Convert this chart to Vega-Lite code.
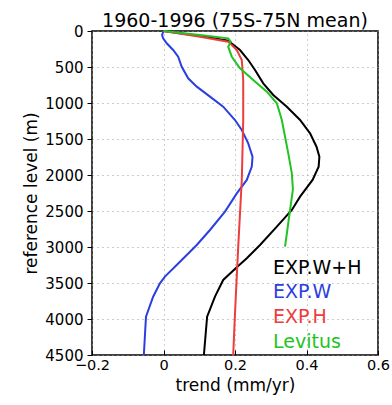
{
  "$schema": "https://vega.github.io/schema/vega-lite/v6.json",
  "width": 286,
  "height": 324,
  "autosize": "none",
  "padding": {"left": 92, "top": 31, "right": 14, "bottom": 50},
  "background": "white",
  "config": {
    "view": {"stroke": "black", "strokeWidth": 1.5},
    "font": "DejaVu Sans",
    "axis": {"labelOverlap": false},
    "axisX": {"labelOverlap": false}
  },
  "title": {
    "text": "1960-1996 (75S-75N mean)",
    "font": "DejaVu Sans",
    "fontSize": 19,
    "fontWeight": "normal",
    "color": "black",
    "baseline": "top",
    "offset": 6,
    "dy": 13
  },
  "datasets": {
    "profiles": [
      {"series": "EXP.W+H", "depth": 0, "trend": 0.0},
      {"series": "EXP.W+H", "depth": 70, "trend": 0.102},
      {"series": "EXP.W+H", "depth": 134, "trend": 0.181},
      {"series": "EXP.W+H", "depth": 171, "trend": 0.19},
      {"series": "EXP.W+H", "depth": 264, "trend": 0.214},
      {"series": "EXP.W+H", "depth": 403, "trend": 0.237},
      {"series": "EXP.W+H", "depth": 542, "trend": 0.256},
      {"series": "EXP.W+H", "depth": 727, "trend": 0.279},
      {"series": "EXP.W+H", "depth": 889, "trend": 0.307},
      {"series": "EXP.W+H", "depth": 1051, "trend": 0.345},
      {"series": "EXP.W+H", "depth": 1236, "trend": 0.382},
      {"series": "EXP.W+H", "depth": 1421, "trend": 0.41},
      {"series": "EXP.W+H", "depth": 1607, "trend": 0.428},
      {"series": "EXP.W+H", "depth": 1746, "trend": 0.436},
      {"series": "EXP.W+H", "depth": 1884, "trend": 0.434},
      {"series": "EXP.W+H", "depth": 2069, "trend": 0.417},
      {"series": "EXP.W+H", "depth": 2301, "trend": 0.382},
      {"series": "EXP.W+H", "depth": 2486, "trend": 0.359},
      {"series": "EXP.W+H", "depth": 2718, "trend": 0.317},
      {"series": "EXP.W+H", "depth": 2972, "trend": 0.27},
      {"series": "EXP.W+H", "depth": 3157, "trend": 0.233},
      {"series": "EXP.W+H", "depth": 3282, "trend": 0.205},
      {"series": "EXP.W+H", "depth": 3458, "trend": 0.167},
      {"series": "EXP.W+H", "depth": 3690, "trend": 0.144},
      {"series": "EXP.W+H", "depth": 3968, "trend": 0.122},
      {"series": "EXP.W+H", "depth": 4500, "trend": 0.113},

      {"series": "EXP.W", "depth": 0, "trend": 0.0},
      {"series": "EXP.W", "depth": 56, "trend": -0.004},
      {"series": "EXP.W", "depth": 102, "trend": -0.001},
      {"series": "EXP.W", "depth": 171, "trend": 0.009},
      {"series": "EXP.W", "depth": 264, "trend": 0.027},
      {"series": "EXP.W", "depth": 357, "trend": 0.041},
      {"series": "EXP.W", "depth": 496, "trend": 0.051},
      {"series": "EXP.W", "depth": 657, "trend": 0.069},
      {"series": "EXP.W", "depth": 773, "trend": 0.093},
      {"series": "EXP.W", "depth": 912, "trend": 0.13},
      {"series": "EXP.W", "depth": 1051, "trend": 0.167},
      {"series": "EXP.W", "depth": 1236, "trend": 0.2},
      {"series": "EXP.W", "depth": 1375, "trend": 0.219},
      {"series": "EXP.W", "depth": 1560, "trend": 0.237},
      {"series": "EXP.W", "depth": 1746, "trend": 0.249},
      {"series": "EXP.W", "depth": 1884, "trend": 0.247},
      {"series": "EXP.W", "depth": 2069, "trend": 0.233},
      {"series": "EXP.W", "depth": 2255, "trend": 0.205},
      {"series": "EXP.W", "depth": 2509, "trend": 0.172},
      {"series": "EXP.W", "depth": 2764, "trend": 0.13},
      {"series": "EXP.W", "depth": 2972, "trend": 0.093},
      {"series": "EXP.W", "depth": 3204, "trend": 0.046},
      {"series": "EXP.W", "depth": 3412, "trend": 0.004},
      {"series": "EXP.W", "depth": 3505, "trend": -0.01},
      {"series": "EXP.W", "depth": 3690, "trend": -0.029},
      {"series": "EXP.W", "depth": 3968, "trend": -0.049},
      {"series": "EXP.W", "depth": 4500, "trend": -0.055},

      {"series": "EXP.H", "depth": 0, "trend": 0.0},
      {"series": "EXP.H", "depth": 79, "trend": 0.102},
      {"series": "EXP.H", "depth": 148, "trend": 0.181},
      {"series": "EXP.H", "depth": 264, "trend": 0.205},
      {"series": "EXP.H", "depth": 403, "trend": 0.219},
      {"series": "EXP.H", "depth": 680, "trend": 0.223},
      {"series": "EXP.H", "depth": 1236, "trend": 0.223},
      {"series": "EXP.H", "depth": 2069, "trend": 0.219},
      {"series": "EXP.H", "depth": 2995, "trend": 0.209},
      {"series": "EXP.H", "depth": 3921, "trend": 0.2},
      {"series": "EXP.H", "depth": 4500, "trend": 0.195},

      {"series": "Levitus", "depth": 0, "trend": 0.0},
      {"series": "Levitus", "depth": 56, "trend": 0.102},
      {"series": "Levitus", "depth": 102, "trend": 0.181},
      {"series": "Levitus", "depth": 148, "trend": 0.188},
      {"series": "Levitus", "depth": 218, "trend": 0.181},
      {"series": "Levitus", "depth": 357, "trend": 0.191},
      {"series": "Levitus", "depth": 518, "trend": 0.214},
      {"series": "Levitus", "depth": 680, "trend": 0.251},
      {"series": "Levitus", "depth": 843, "trend": 0.289},
      {"series": "Levitus", "depth": 1004, "trend": 0.317},
      {"series": "Levitus", "depth": 1236, "trend": 0.331},
      {"series": "Levitus", "depth": 1468, "trend": 0.34},
      {"series": "Levitus", "depth": 1699, "trend": 0.349},
      {"series": "Levitus", "depth": 1977, "trend": 0.359},
      {"series": "Levitus", "depth": 2200, "trend": 0.362},
      {"series": "Levitus", "depth": 2486, "trend": 0.354},
      {"series": "Levitus", "depth": 2995, "trend": 0.34}
    ]
  },
  "layer": [
    {
      "mark": {"type": "rule", "color": "black", "strokeWidth": 1.3},
      "encoding": {"x": {"datum": 0, "type": "quantitative"}}
    },
    {
      "data": {"name": "profiles"},
      "mark": {"type": "line", "strokeWidth": 2, "interpolate": "linear"},
      "encoding": {
        "x": {
          "field": "trend",
          "type": "quantitative",
          "scale": {"domain": [-0.2, 0.6], "nice": false, "zero": false},
          "axis": {
            "title": "trend (mm/yr)",
            "titleFont": "DejaVu Sans",
            "titleFontSize": 17,
            "titleFontWeight": "normal",
            "titleColor": "black",
            "titlePadding": 6,
            "values": [-0.2, -0.1, 0, 0.1, 0.2, 0.3, 0.4, 0.5, 0.6],
            "labelExpr": "datum.value == 0 ? '0' : format(datum.value, '.1f')",
            "labelFont": "DejaVu Sans",
            "labelFontSize": 14.5,
            "labelColor": "black",
            "labelOverlap": false,
            "labelPadding": 8,
            "labelFlush": false,
            "domain": false,
            "tickColor": "black",
            "tickSize": -5,
            "tickWidth": 1,
            "grid": true,
            "gridColor": "#9a9a9a",
            "gridDash": [1, 4],
            "gridWidth": 1
          }
        },
        "y": {
          "field": "depth",
          "type": "quantitative",
          "scale": {"domain": [0, 4500], "reverse": true, "nice": false},
          "axis": {
            "title": "reference level (m)",
            "titleFont": "DejaVu Sans",
            "titleFontSize": 17,
            "titleFontWeight": "normal",
            "titleColor": "black",
            "titlePadding": 4,
            "values": [0, 500, 1000, 1500, 2000, 2500, 3000, 3500, 4000, 4500],
            "labelFont": "DejaVu Sans",
            "labelFontSize": 15,
            "labelColor": "black",
            "labelPadding": 4,
            "labelFlush": false,
            "labelOverlap": false,
            "format": "d",
            "domain": false,
            "tickColor": "black",
            "tickSize": 5,
            "tickWidth": 1,
            "grid": true,
            "gridColor": "#9a9a9a",
            "gridDash": [1, 4],
            "gridWidth": 1
          }
        },
        "color": {
          "field": "series",
          "type": "nominal",
          "scale": {
            "domain": ["EXP.W+H", "EXP.W", "EXP.H", "Levitus"],
            "range": ["#000000", "#2b3fe0", "#ee3d3d", "#22c322"]
          },
          "legend": {
            "orient": "none",
            "legendX": 162,
            "legendY": 227,
            "title": null,
            "padding": 0,
            "symbolSize": 0,
            "symbolStrokeWidth": 0,
            "symbolOpacity": 0,
            "labelOffset": 0,
            "labelFont": "DejaVu Sans",
            "labelFontSize": 19,
            "rowPadding": 4.7,
            "encode": {
              "labels": {"update": {"fill": {"scale": "color", "field": "value"}}}
            }
          }
        },
        "order": {"field": "depth", "type": "quantitative"}
      }
    }
  ]
}
